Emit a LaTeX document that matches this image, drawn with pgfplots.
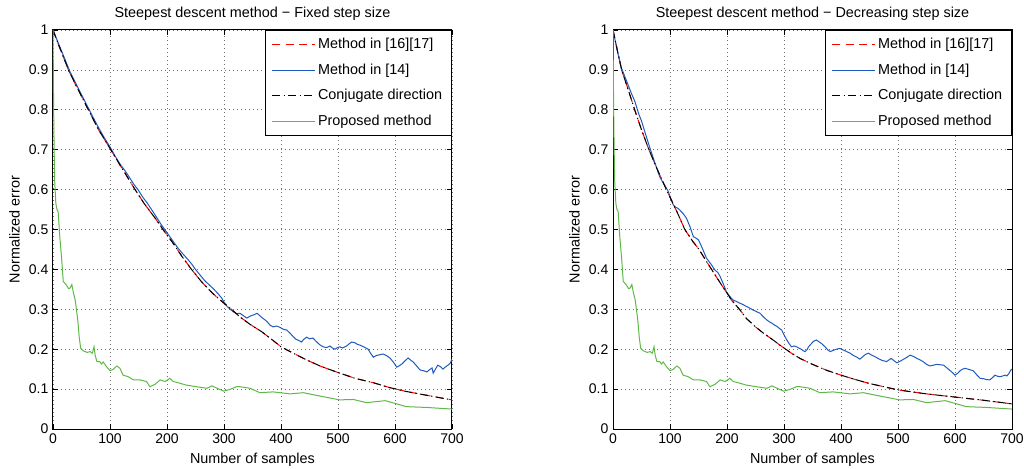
\documentclass[border=0pt]{standalone}
\usepackage{fontspec}
\setmainfont{Liberation Sans}
\usepackage{pgfplots}
\usepackage{pgfplotstable}
\pgfplotsset{compat=1.18}
\definecolor{mblue}{RGB}{30,90,190}
\definecolor{mgreen}{RGB}{95,185,70}
\definecolor{mred}{RGB}{255,0,0}

% theoretical curve, fixed step size
\pgfplotstableread{
x y
0 1.0
10 0.962
20 0.926
27 0.900
40 0.862
50 0.834
62 0.800
80 0.750
100 0.703
120 0.656
144 0.600
160 0.565
180 0.527
193 0.500
210 0.467
226 0.433
243 0.400
260 0.370
280 0.340
296 0.320
313 0.300
328 0.281
346 0.262
366 0.244
386 0.222
400 0.206
420 0.191
445 0.173
470 0.157
503 0.140
530 0.127
562 0.116
590 0.104
620 0.094
650 0.086
680 0.078
700 0.073
}\theoA

% method in [14], fixed step size
\pgfplotstableread{
x y
0 1.0
10 0.965
20 0.93
30 0.895
40 0.866
50 0.838
60 0.81
70 0.782
80 0.755
90 0.73
100 0.707
109 0.684
118 0.663
126 0.648
133 0.633
141 0.615
150 0.598
158 0.580
165 0.567
172 0.552
182 0.530
190 0.512
200 0.492
211 0.470
220 0.452
229 0.437
236 0.426
243 0.414
250 0.400
258 0.386
266 0.372
275 0.360
281 0.352
289 0.340
296 0.328
300 0.318
305 0.308
311 0.300
316 0.294
322 0.289
328 0.290
334 0.284
340 0.278
346 0.283
352 0.286
358 0.290
366 0.280
375 0.270
381 0.260
386 0.256
392 0.258
398 0.255
404 0.250
410 0.248
416 0.240
421 0.232
426 0.225
431 0.222
436 0.218
440 0.225
445 0.230
450 0.226
456 0.228
460 0.222
465 0.215
469 0.210
474 0.206
480 0.204
486 0.208
490 0.203
495 0.200
499 0.204
503 0.206
508 0.203
515 0.208
520 0.214
524 0.218
530 0.216
534 0.212
539 0.210
545 0.206
553 0.200
557 0.190
562 0.180
567 0.184
573 0.186
579 0.188
585 0.184
591 0.178
597 0.168
603 0.155
607 0.158
612 0.163
617 0.170
623 0.178
628 0.172
632 0.168
638 0.158
644 0.148
650 0.146
656 0.143
660 0.148
665 0.153
667 0.140
671 0.150
675 0.160
680 0.156
684 0.150
688 0.155
693 0.160
697 0.165
700 0.175
}\blueA

% proposed method
\pgfplotstableread{
x y
0 1.0
1 0.82
2 0.7
3 0.62
5 0.565
7 0.55
9 0.545
12 0.48
15 0.43
18 0.37
21 0.365
24 0.36
27 0.352
30 0.353
33 0.362
36 0.34
39 0.323
42 0.29
44 0.265
46 0.23
48.5 0.203
53 0.196
60 0.192
65 0.194
69 0.19
72 0.206
74 0.185
77 0.169
82 0.169
85 0.163
88 0.168
94 0.156
100 0.146
106 0.15
112 0.158
117.5 0.152
123 0.135
132 0.131
141 0.123
153 0.123
164 0.119
170 0.106
179 0.112
188 0.123
197 0.119
205 0.127
211 0.119
222 0.115
234 0.11
252 0.106
270 0.102
279 0.108
288 0.102
299 0.095
310 0.099
322 0.106
328 0.106
346 0.102
363 0.091
386 0.093
416 0.088
439 0.091
474 0.081
503 0.073
527 0.074
550 0.066
583 0.071
598 0.065
620 0.056
656 0.054
677 0.052
700 0.05
}\greenA

% theoretical curve, decreasing step size
\pgfplotstableread{
x y
0 1.0
15 0.900
25 0.858
38 0.800
50 0.750
63 0.700
80 0.643
97 0.590
112 0.545
126 0.500
140 0.470
150 0.452
164 0.420
185 0.373
208 0.323
223 0.298
234 0.277
250 0.256
264 0.240
280 0.224
293 0.210
313 0.190
328 0.177
350 0.162
375 0.147
400 0.135
425 0.124
450 0.114
475 0.106
500 0.098
550 0.088
600 0.080
650 0.072
700 0.063
}\theoB

% method in [14], decreasing step size
\pgfplotstableread{
x y
0 1.0
8 0.945
15 0.904
25 0.868
32 0.842
38.6 0.82
45 0.79
50 0.772
58 0.735
65 0.703
74 0.665
82 0.632
90 0.612
94 0.603
97 0.595
102 0.575
106 0.561
110 0.556
114 0.553
117 0.549
123 0.540
129 0.528
135 0.507
141 0.482
146 0.478
150 0.474
157 0.452
164 0.428
172 0.413
179 0.398
184 0.392
188 0.382
194 0.362
199 0.344
205 0.332
211 0.323
216 0.320
223 0.315
228 0.312
234 0.307
240 0.303
246 0.298
252 0.294
258 0.290
264 0.281
270 0.273
275 0.268
279 0.265
284 0.260
288 0.257
292 0.252
296 0.248
300 0.236
305 0.223
309 0.214
313 0.206
318 0.208
322 0.206
326 0.203
330 0.200
334 0.196
337 0.194
340 0.198
343 0.206
348 0.214
352 0.220
357 0.223
362 0.218
366 0.214
372 0.206
377 0.198
381 0.194
386 0.197
392 0.200
398 0.202
404 0.198
410 0.194
416 0.190
422 0.184
428 0.180
433 0.175
438 0.181
443 0.187
448 0.190
454 0.185
460 0.181
466 0.176
472 0.172
480 0.169
484 0.173
488 0.177
493 0.171
498 0.166
504 0.170
510 0.175
516 0.180
521 0.185
527 0.182
533 0.177
539 0.173
545 0.168
550 0.162
556 0.158
562 0.160
568 0.162
574 0.161
580 0.160
585 0.154
590 0.148
595 0.142
600 0.135
605 0.140
609 0.146
613 0.150
618 0.152
625 0.149
632 0.146
638 0.136
644 0.127
650 0.126
655 0.124
661 0.123
666 0.129
670 0.135
675 0.132
679 0.131
684 0.133
688 0.135
691 0.133
694 0.138
698 0.148
700 0.150
}\blueB

\pgfplotsset{
  mystyle/.style={
    scale only axis,
    width=299.25pt, height=299.25pt,
    xmin=0, xmax=700, ymin=0, ymax=1,
    xtick={0,100,200,300,400,500,600,700},
    xticklabels={0,100,200,300,400,500,600,700},
    ytick={0,0.1,0.2,0.3,0.4,0.5,0.6,0.7,0.8,0.9,1},
    yticklabels={0,0.1,0.2,0.3,0.4,0.5,0.6,0.7,0.8,0.9,1},
    tick align=inside,
    major tick length=3.5pt,
    every tick/.style={black, line width=0.5pt},
    axis line style={black, line width=0.75pt},
    grid=major,
    major grid style={gray!85!black, line width=0.5pt, dash pattern=on 0.6pt off 2.4pt},
    xlabel={Number of samples},
    ylabel={Normalized error},
    title style={yshift=-2.25pt},
    tick label style={font=\fontsize{10.5}{12}\selectfont},
    legend cell align=left,
    legend style={at={(1,1)}, anchor=north east, draw=black, line width=0.75pt,
      fill=white, font=\fontsize{10.8}{13}\selectfont, row sep=5.8pt,
      inner xsep=5pt, inner ysep=4pt},
    legend image code/.code={\draw[#1] (0pt,0pt) -- (32pt,0pt);},
  },
  redline/.style={mred, line width=0.75pt, dash pattern=on 6pt off 4pt},
  blueline/.style={mblue, line width=0.75pt},
  blackline/.style={black, line width=0.75pt, dash pattern=on 6pt off 2.5pt on 1pt off 2.5pt},
  greenline/.style={mgreen, line width=0.75pt},
}

\begin{document}
\begin{tikzpicture}[font=\fontsize{10.8}{13}\selectfont]
\useasboundingbox (0,0) rectangle (768pt,351pt);

\begin{axis}[mystyle, at={(39.75pt,29.25pt)}, anchor=south west,
  title={Steepest descent method − Fixed step size}]
\addplot[redline] table[x=x,y=y] {\theoA};
\addlegendentry{Method in [16][17]}
\addplot[blueline] table[x=x,y=y] {\blueA};
\addlegendentry{Method in [14]}
\addplot[blackline] table[x=x,y=y] {\theoA};
\addlegendentry{Conjugate direction}
\addplot[greenline] table[x=x,y=y] {\greenA};
\addlegendentry{Proposed method}
\end{axis}

\begin{axis}[mystyle, at={(459.75pt,29.25pt)}, anchor=south west,
  title={Steepest descent method − Decreasing step size}]
\addplot[redline] table[x=x,y=y] {\theoB};
\addlegendentry{Method in [16][17]}
\addplot[blueline] table[x=x,y=y] {\blueB};
\addlegendentry{Method in [14]}
\addplot[blackline] table[x=x,y=y] {\theoB};
\addlegendentry{Conjugate direction}
\addplot[greenline] table[x=x,y=y] {\greenA};
\addlegendentry{Proposed method}
\end{axis}
\end{tikzpicture}
\end{document}
